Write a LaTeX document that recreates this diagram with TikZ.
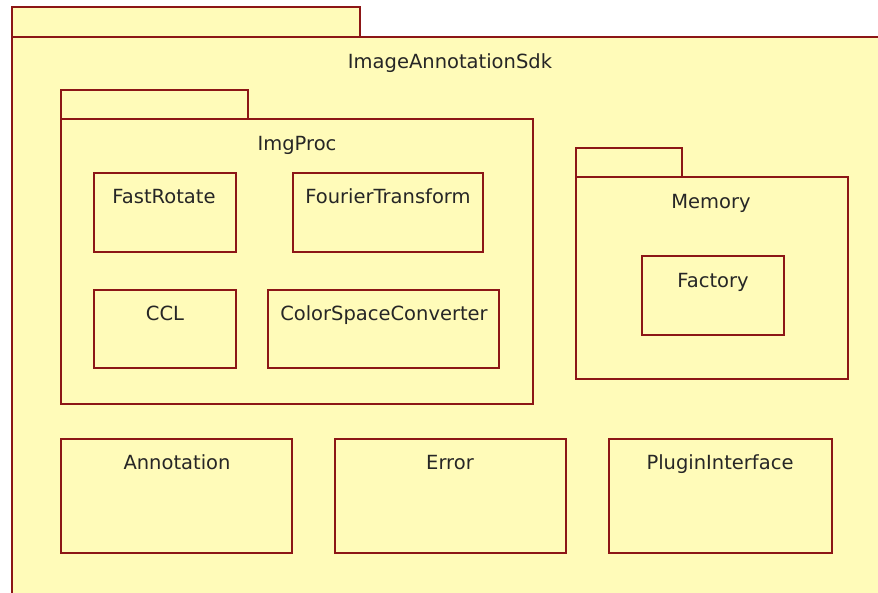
\documentclass[tikz,border=0pt]{standalone}
\usepackage{fontspec}
\setmainfont{DejaVu Sans}
\definecolor{pkgfill}{RGB}{255,251,185}
\definecolor{pkgline}{RGB}{140,22,22}
\begin{document}
\begin{tikzpicture}[x=1pt,y=-1pt,
  box/.style={draw=pkgline,fill=pkgfill,line width=1.8pt},
  lbl/.style={font=\fontsize{19.5}{22}\selectfont,text=black!85,inner sep=0pt,anchor=base}]
\useasboundingbox (0,0) rectangle (878,592);
% outer package
\draw[box] (12,7) rectangle (360,37);
\draw[box] (12,37) rectangle (890,600);
\node[lbl] (sdk) at (450,68) {ImageAnnotationSdk};
% ImgProc package
\draw[box] (61,90) rectangle (248,119);
\draw[box] (61,119) rectangle (533,404);
\node[lbl] (imgproc) at (297,150) {ImgProc};
\draw[box] (94,173) rectangle (236,252);
\node[lbl] (fastrotate) at (164,203) {FastRotate};
\draw[box] (293,173) rectangle (483,252);
\node[lbl] (fourier) at (388,203) {FourierTransform};
\draw[box] (94,290) rectangle (236,368);
\node[lbl] (ccl) at (165,320) {CCL};
\draw[box] (268,290) rectangle (499,368);
\node[lbl] (csc) at (384,320) {ColorSpaceConverter};
% Memory package
\draw[box] (576,148) rectangle (682,177);
\draw[box] (576,177) rectangle (848,379);
\node[lbl] (memory) at (711,208) {Memory};
\draw[box] (642,256) rectangle (784,335);
\node[lbl] (factory) at (713,287) {Factory};
% bottom classes
\draw[box] (61,439) rectangle (292,553);
\node[lbl] (annotation) at (177,469) {Annotation};
\draw[box] (335,439) rectangle (566,553);
\node[lbl] (error) at (450,469) {Error};
\draw[box] (609,439) rectangle (832,553);
\node[lbl] (plugin) at (720,469) {PluginInterface};
\end{tikzpicture}
\end{document}
